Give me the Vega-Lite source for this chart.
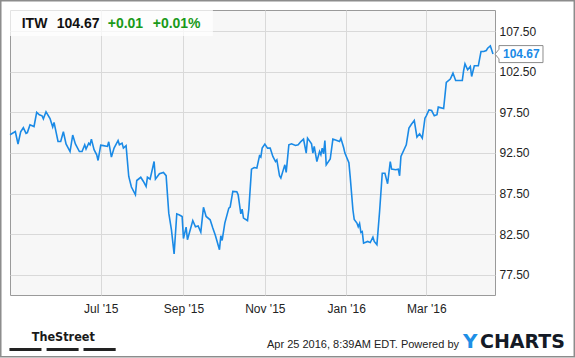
{
  "$schema": "https://vega.github.io/schema/vega-lite/v6.json",
  "width": 485,
  "height": 285,
  "autosize": {"type": "none"},
  "padding": {"left": 10, "top": 10, "right": 80, "bottom": 63},
  "background": "#ffffff",
  "config": {
    "font": "Liberation Sans",
    "view": {"fill": "#f7f7f7", "stroke": "#9a9a9a", "strokeWidth": 1},
    "axis": {
      "title": null,
      "labelFont": "Liberation Sans",
      "labelFontSize": 12,
      "labelColor": "#222222",
      "ticks": false,
      "tickSize": 0,
      "domain": false,
      "grid": true,
      "gridColor": "#d9d9d9",
      "gridWidth": 1,
      "labelFlush": false,
      "labelOverlap": false
    },
    "axisX": {"labelPadding": 8},
    "axisY": {"labelPadding": 4}
  },
  "datasets": {
    "itw": [
      {"date": "2015-04-24", "close": 94.73},
      {"date": "2015-04-28", "close": 95.14},
      {"date": "2015-04-30", "close": 93.6},
      {"date": "2015-05-02", "close": 95.1},
      {"date": "2015-05-04", "close": 95.6},
      {"date": "2015-05-06", "close": 94.9},
      {"date": "2015-05-07", "close": 95.0},
      {"date": "2015-05-09", "close": 95.96},
      {"date": "2015-05-12", "close": 95.75},
      {"date": "2015-05-14", "close": 97.5},
      {"date": "2015-05-16", "close": 97.2},
      {"date": "2015-05-18", "close": 97.07},
      {"date": "2015-05-19", "close": 96.7},
      {"date": "2015-05-21", "close": 97.56},
      {"date": "2015-05-24", "close": 96.74},
      {"date": "2015-05-26", "close": 95.7},
      {"date": "2015-05-27", "close": 96.25},
      {"date": "2015-05-30", "close": 93.9},
      {"date": "2015-06-01", "close": 93.9},
      {"date": "2015-06-03", "close": 95.1},
      {"date": "2015-06-05", "close": 93.6},
      {"date": "2015-06-08", "close": 92.67},
      {"date": "2015-06-10", "close": 94.7},
      {"date": "2015-06-12", "close": 93.6},
      {"date": "2015-06-15", "close": 92.67},
      {"date": "2015-06-17", "close": 92.67},
      {"date": "2015-06-19", "close": 93.5},
      {"date": "2015-06-20", "close": 92.97},
      {"date": "2015-06-22", "close": 93.7},
      {"date": "2015-06-23", "close": 93.5},
      {"date": "2015-06-24", "close": 94.2},
      {"date": "2015-06-26", "close": 92.9},
      {"date": "2015-06-28", "close": 92.27},
      {"date": "2015-06-29", "close": 91.57},
      {"date": "2015-07-01", "close": 93.46},
      {"date": "2015-07-03", "close": 93.4},
      {"date": "2015-07-06", "close": 93.3},
      {"date": "2015-07-07", "close": 93.87},
      {"date": "2015-07-09", "close": 91.98},
      {"date": "2015-07-11", "close": 93.09},
      {"date": "2015-07-14", "close": 94.03},
      {"date": "2015-07-15", "close": 93.5},
      {"date": "2015-07-17", "close": 93.7},
      {"date": "2015-07-18", "close": 93.09},
      {"date": "2015-07-20", "close": 93.4},
      {"date": "2015-07-22", "close": 89.6},
      {"date": "2015-07-24", "close": 88.3},
      {"date": "2015-07-27", "close": 87.34},
      {"date": "2015-07-28", "close": 89.1},
      {"date": "2015-07-31", "close": 89.5},
      {"date": "2015-08-02", "close": 88.98},
      {"date": "2015-08-04", "close": 88.36},
      {"date": "2015-08-05", "close": 89.5},
      {"date": "2015-08-07", "close": 89.27},
      {"date": "2015-08-10", "close": 91.44},
      {"date": "2015-08-11", "close": 89.27},
      {"date": "2015-08-14", "close": 89.93},
      {"date": "2015-08-17", "close": 90.1},
      {"date": "2015-08-19", "close": 89.7},
      {"date": "2015-08-21", "close": 85.08},
      {"date": "2015-08-23", "close": 83.03},
      {"date": "2015-08-25", "close": 80.07},
      {"date": "2015-08-27", "close": 85.0},
      {"date": "2015-08-29", "close": 84.86},
      {"date": "2015-08-31", "close": 84.67},
      {"date": "2015-09-01", "close": 81.95},
      {"date": "2015-09-03", "close": 83.36},
      {"date": "2015-09-04", "close": 81.8},
      {"date": "2015-09-08", "close": 84.17},
      {"date": "2015-09-10", "close": 83.4},
      {"date": "2015-09-12", "close": 83.5},
      {"date": "2015-09-14", "close": 82.75},
      {"date": "2015-09-16", "close": 85.8},
      {"date": "2015-09-18", "close": 84.67},
      {"date": "2015-09-21", "close": 84.26},
      {"date": "2015-09-23", "close": 83.24},
      {"date": "2015-09-25", "close": 82.3},
      {"date": "2015-09-28", "close": 80.57},
      {"date": "2015-09-29", "close": 82.3},
      {"date": "2015-09-30", "close": 81.72},
      {"date": "2015-10-02", "close": 83.86},
      {"date": "2015-10-05", "close": 85.7},
      {"date": "2015-10-06", "close": 85.83},
      {"date": "2015-10-08", "close": 87.75},
      {"date": "2015-10-11", "close": 87.71},
      {"date": "2015-10-12", "close": 87.34},
      {"date": "2015-10-14", "close": 85.0},
      {"date": "2015-10-15", "close": 85.58},
      {"date": "2015-10-16", "close": 84.47},
      {"date": "2015-10-19", "close": 84.17},
      {"date": "2015-10-20", "close": 85.58},
      {"date": "2015-10-22", "close": 90.5},
      {"date": "2015-10-24", "close": 90.7},
      {"date": "2015-10-26", "close": 90.63},
      {"date": "2015-10-28", "close": 92.14},
      {"date": "2015-10-29", "close": 91.98},
      {"date": "2015-10-30", "close": 93.09},
      {"date": "2015-11-01", "close": 93.58},
      {"date": "2015-11-03", "close": 93.09},
      {"date": "2015-11-05", "close": 93.09},
      {"date": "2015-11-07", "close": 92.06},
      {"date": "2015-11-09", "close": 91.44},
      {"date": "2015-11-10", "close": 91.65},
      {"date": "2015-11-12", "close": 89.68},
      {"date": "2015-11-13", "close": 89.4},
      {"date": "2015-11-15", "close": 90.5},
      {"date": "2015-11-16", "close": 91.03},
      {"date": "2015-11-17", "close": 90.1},
      {"date": "2015-11-19", "close": 93.5},
      {"date": "2015-11-21", "close": 93.62},
      {"date": "2015-11-24", "close": 93.41},
      {"date": "2015-11-26", "close": 93.5},
      {"date": "2015-11-28", "close": 93.9},
      {"date": "2015-11-30", "close": 94.2},
      {"date": "2015-12-02", "close": 92.48},
      {"date": "2015-12-03", "close": 94.32},
      {"date": "2015-12-06", "close": 93.62},
      {"date": "2015-12-07", "close": 92.48},
      {"date": "2015-12-08", "close": 93.3},
      {"date": "2015-12-10", "close": 91.44},
      {"date": "2015-12-12", "close": 92.67},
      {"date": "2015-12-13", "close": 92.27},
      {"date": "2015-12-14", "close": 93.09},
      {"date": "2015-12-15", "close": 92.39},
      {"date": "2015-12-16", "close": 94.03},
      {"date": "2015-12-17", "close": 91.03},
      {"date": "2015-12-20", "close": 91.74},
      {"date": "2015-12-22", "close": 94.2},
      {"date": "2015-12-25", "close": 94.03},
      {"date": "2015-12-27", "close": 93.9},
      {"date": "2015-12-28", "close": 94.3},
      {"date": "2015-12-30", "close": 93.2},
      {"date": "2015-12-31", "close": 92.48},
      {"date": "2016-01-03", "close": 91.3},
      {"date": "2016-01-04", "close": 89.5},
      {"date": "2016-01-06", "close": 85.5},
      {"date": "2016-01-07", "close": 84.3},
      {"date": "2016-01-09", "close": 83.86},
      {"date": "2016-01-10", "close": 83.4},
      {"date": "2016-01-11", "close": 83.8},
      {"date": "2016-01-12", "close": 82.7},
      {"date": "2016-01-13", "close": 82.8},
      {"date": "2016-01-14", "close": 81.39},
      {"date": "2016-01-17", "close": 81.6},
      {"date": "2016-01-19", "close": 81.46},
      {"date": "2016-01-21", "close": 82.13},
      {"date": "2016-01-22", "close": 81.6},
      {"date": "2016-01-24", "close": 81.2},
      {"date": "2016-01-26", "close": 85.28},
      {"date": "2016-01-28", "close": 90.0},
      {"date": "2016-01-30", "close": 90.0},
      {"date": "2016-02-01", "close": 88.7},
      {"date": "2016-02-03", "close": 91.44},
      {"date": "2016-02-04", "close": 90.5},
      {"date": "2016-02-07", "close": 90.42},
      {"date": "2016-02-09", "close": 90.5},
      {"date": "2016-02-10", "close": 89.68},
      {"date": "2016-02-11", "close": 92.06},
      {"date": "2016-02-15", "close": 93.5},
      {"date": "2016-02-17", "close": 95.55},
      {"date": "2016-02-19", "close": 96.05},
      {"date": "2016-02-21", "close": 96.49},
      {"date": "2016-02-23", "close": 94.45},
      {"date": "2016-02-25", "close": 94.85},
      {"date": "2016-02-27", "close": 94.32},
      {"date": "2016-02-29", "close": 96.78},
      {"date": "2016-03-01", "close": 97.07},
      {"date": "2016-03-03", "close": 97.8},
      {"date": "2016-03-05", "close": 97.72},
      {"date": "2016-03-07", "close": 97.07},
      {"date": "2016-03-09", "close": 97.2},
      {"date": "2016-03-10", "close": 98.14},
      {"date": "2016-03-14", "close": 97.97},
      {"date": "2016-03-16", "close": 101.17},
      {"date": "2016-03-19", "close": 101.59},
      {"date": "2016-03-21", "close": 102.33},
      {"date": "2016-03-23", "close": 101.42},
      {"date": "2016-03-28", "close": 101.42},
      {"date": "2016-03-29", "close": 102.65},
      {"date": "2016-03-30", "close": 103.47},
      {"date": "2016-04-01", "close": 102.73},
      {"date": "2016-04-03", "close": 103.14},
      {"date": "2016-04-04", "close": 101.91},
      {"date": "2016-04-06", "close": 103.23},
      {"date": "2016-04-09", "close": 103.23},
      {"date": "2016-04-11", "close": 104.99},
      {"date": "2016-04-13", "close": 104.99},
      {"date": "2016-04-15", "close": 105.11},
      {"date": "2016-04-16", "close": 105.4},
      {"date": "2016-04-18", "close": 105.69},
      {"date": "2016-04-20", "close": 104.67}
    ],
    "last": [
      {"date": "2016-04-20", "close": 104.67}
    ]
  },
  "layer": [
    {
      "data": {"name": "itw"},
      "mark": {"type": "line", "stroke": "#1a8ae6", "strokeWidth": 1.6, "interpolate": "linear"},
      "encoding": {
        "x": {
          "field": "date",
          "type": "temporal",
          "scale": {
            "type": "utc",
            "domain": [
              {"year": 2015, "month": 4, "date": 24, "utc": true},
              {"year": 2016, "month": 4, "date": 21, "hours": 12, "utc": true}
            ]
          },
          "axis": {
            "orient": "bottom",
            "values": [
              {"year": 2015, "month": 7, "date": 1, "utc": true},
              {"year": 2015, "month": 9, "date": 1, "utc": true},
              {"year": 2015, "month": 11, "date": 1, "utc": true},
              {"year": 2016, "month": 1, "date": 1, "utc": true},
              {"year": 2016, "month": 3, "date": 1, "utc": true}
            ],
            "format": "%b '%y"
          }
        },
        "y": {
          "field": "close",
          "type": "quantitative",
          "scale": {"domain": [75, 110.1], "nice": false, "zero": false},
          "axis": {
            "orient": "right",
            "values": [77.5, 82.5, 87.5, 92.5, 97.5, 102.5, 107.5],
            "format": ".2f"
          }
        }
      }
    },
    {
      "data": {"values": [{}]},
      "mark": {"type": "rect", "fill": null, "stroke": "#8c8c8c", "strokeWidth": 1.5},
      "encoding": {
        "x": {"datum": {"year": 2015, "month": 4, "date": 17, "hours": 2, "utc": true}, "type": "temporal"},
        "x2": {"datum": {"year": 2016, "month": 6, "date": 19, "hours": 22, "utc": true}},
        "y": {"datum": 111.24, "type": "quantitative"},
        "y2": {"datum": 67.4}
      }
    },
    {
      "data": {"values": [{}]},
      "mark": {"type": "rect", "fill": "#ffffff", "fillOpacity": 0.72, "stroke": null},
      "encoding": {
        "x": {"datum": {"year": 2015, "month": 4, "date": 24, "utc": true}, "type": "temporal"},
        "x2": {"datum": {"year": 2015, "month": 9, "date": 23, "hours": 2, "utc": true}},
        "y": {"datum": 110.1, "type": "quantitative"},
        "y2": {"datum": 106.9}
      }
    },
    {
      "data": {"values": [{}]},
      "mark": {"type": "text", "text": "ITW", "font": "Liberation Sans", "fontSize": 14, "fontWeight": "bold", "color": "#111111", "align": "left", "baseline": "alphabetic", "dx": 11.7, "dy": 18.3},
      "encoding": {
        "x": {"datum": {"year": 2015, "month": 4, "date": 24, "utc": true}, "type": "temporal"},
        "y": {"datum": 110.1, "type": "quantitative"}
      }
    },
    {
      "data": {"values": [{}]},
      "mark": {"type": "text", "text": "104.67", "font": "Liberation Sans", "fontSize": 14, "fontWeight": "bold", "color": "#111111", "align": "left", "baseline": "alphabetic", "dx": 46.7, "dy": 18.3},
      "encoding": {
        "x": {"datum": {"year": 2015, "month": 4, "date": 24, "utc": true}, "type": "temporal"},
        "y": {"datum": 110.1, "type": "quantitative"}
      }
    },
    {
      "data": {"values": [{}]},
      "mark": {"type": "text", "text": "+0.01", "font": "Liberation Sans", "fontSize": 14, "fontWeight": "bold", "color": "#1a9a1a", "align": "left", "baseline": "alphabetic", "dx": 97.7, "dy": 18.3},
      "encoding": {
        "x": {"datum": {"year": 2015, "month": 4, "date": 24, "utc": true}, "type": "temporal"},
        "y": {"datum": 110.1, "type": "quantitative"}
      }
    },
    {
      "data": {"values": [{}]},
      "mark": {"type": "text", "text": "+0.01%", "font": "Liberation Sans", "fontSize": 14, "fontWeight": "bold", "color": "#1a9a1a", "align": "left", "baseline": "alphabetic", "dx": 142.7, "dy": 18.3},
      "encoding": {
        "x": {"datum": {"year": 2015, "month": 4, "date": 24, "utc": true}, "type": "temporal"},
        "y": {"datum": 110.1, "type": "quantitative"}
      }
    },
    {
      "data": {"name": "last"},
      "mark": {
        "type": "point",
        "shape": "M0.2,0 L0.6,-0.48 L0.6,-0.85 L5.0,-0.85 L5.0,0.85 L0.6,0.85 L0.6,0.48 Z",
        "size": 400,
        "filled": true,
        "fill": "#ffffff",
        "stroke": "#8c8c8c",
        "strokeWidth": 1,
        "opacity": 1
      },
      "encoding": {
        "x": {"field": "date", "type": "temporal"},
        "y": {"field": "close", "type": "quantitative"}
      }
    },
    {
      "data": {"name": "last"},
      "mark": {"type": "text", "font": "Liberation Sans", "fontSize": 12, "fontWeight": "bold", "color": "#1a8ae6", "align": "left", "baseline": "middle", "dx": 10},
      "encoding": {
        "x": {"field": "date", "type": "temporal"},
        "y": {"field": "close", "type": "quantitative"},
        "text": {"field": "close", "type": "quantitative", "format": ".2f"}
      }
    },
    {
      "data": {"values": [{}]},
      "mark": {"type": "text", "text": "TheStreet", "font": "'DejaVu Sans Condensed', 'Liberation Sans', sans-serif", "fontSize": 12.5, "fontWeight": "bold", "color": "#1a1a1a", "align": "center", "baseline": "alphabetic", "dx": 53.3, "dy": 46},
      "encoding": {
        "x": {"datum": {"year": 2015, "month": 4, "date": 24, "utc": true}, "type": "temporal"},
        "y": {"datum": 75, "type": "quantitative"}
      }
    },
    {
      "data": {"values": [{}]},
      "mark": {"type": "rule", "stroke": "#222222", "strokeWidth": 3},
      "encoding": {
        "x": {"datum": {"year": 2015, "month": 4, "date": 23, "hours": 14, "utc": true}, "type": "temporal"},
        "x2": {"datum": {"year": 2015, "month": 5, "date": 17, "hours": 14, "utc": true}},
        "y": {"datum": 68.29, "type": "quantitative"}
      }
    },
    {
      "data": {"values": [{}]},
      "mark": {"type": "rule", "stroke": "#222222", "strokeWidth": 3},
      "encoding": {
        "x": {"datum": {"year": 2015, "month": 5, "date": 21, "hours": 10, "utc": true}, "type": "temporal"},
        "x2": {"datum": {"year": 2015, "month": 6, "date": 14, "hours": 10, "utc": true}},
        "y": {"datum": 68.29, "type": "quantitative"}
      }
    },
    {
      "data": {"values": [{}]},
      "mark": {"type": "rule", "stroke": "#222222", "strokeWidth": 3},
      "encoding": {
        "x": {"datum": {"year": 2015, "month": 6, "date": 18, "hours": 2, "utc": true}, "type": "temporal"},
        "x2": {"datum": {"year": 2015, "month": 7, "date": 12, "hours": 5, "utc": true}},
        "y": {"datum": 68.29, "type": "quantitative"}
      }
    },
    {
      "data": {"values": [{}]},
      "mark": {"type": "text", "text": "Apr 25 2016, 8:39AM EDT.  Powered by", "font": "Liberation Sans", "fontSize": 11, "color": "#222222", "align": "right", "baseline": "alphabetic", "dx": -36, "dy": 52.7},
      "encoding": {
        "x": {"datum": {"year": 2016, "month": 4, "date": 21, "hours": 12, "utc": true}, "type": "temporal"},
        "y": {"datum": 75, "type": "quantitative"}
      }
    },
    {
      "data": {"values": [{}]},
      "mark": {"type": "text", "text": "Y", "font": "DejaVu Sans", "fontSize": 20, "fontWeight": "bold", "color": "#1e8fe6", "align": "left", "baseline": "alphabetic", "dx": -32, "dy": 53.3},
      "encoding": {
        "x": {"datum": {"year": 2016, "month": 4, "date": 21, "hours": 12, "utc": true}, "type": "temporal"},
        "y": {"datum": 75, "type": "quantitative"}
      }
    },
    {
      "data": {"values": [{}]},
      "mark": {"type": "text", "text": "CHARTS", "font": "DejaVu Sans", "fontSize": 19, "fontWeight": "bold", "color": "#141a26", "align": "left", "baseline": "alphabetic", "dx": -15, "dy": 53.3},
      "encoding": {
        "x": {"datum": {"year": 2016, "month": 4, "date": 21, "hours": 12, "utc": true}, "type": "temporal"},
        "y": {"datum": 75, "type": "quantitative"}
      }
    }
  ]
}
